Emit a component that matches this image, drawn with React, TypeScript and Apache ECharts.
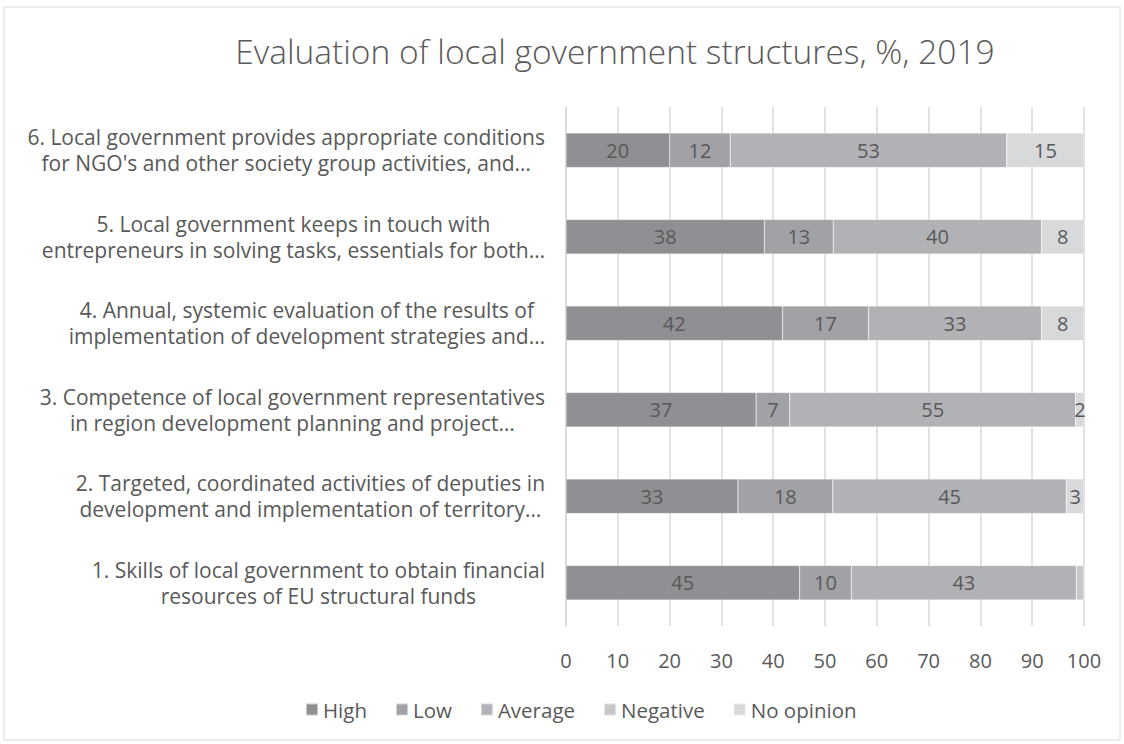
import React, { useEffect, useRef } from "react";
import * as echarts from "echarts";

const categories = [
  "1. Skills of local government to obtain financial\nresources of EU structural funds",
  "2. Targeted, coordinated activities of deputies in\ndevelopment and implementation of territory…",
  "3. Competence of local government representatives\nin region development planning and project…",
  "4. Annual, systemic evaluation of the results of\nimplementation of development strategies and…",
  "5. Local government keeps in touch with\nentrepreneurs in solving tasks, essentials for both…",
  "6. Local government provides appropriate conditions\nfor NGO's and other society group activities, and…",
];

const seriesNames = ["High", "Low", "Average", "Negative", "No opinion"];
const high = [45.1, 33.2, 36.7, 41.8, 38.3, 20.0];
const low = [10.0, 18.3, 6.5, 16.6, 13.3, 11.7];
const average = [43.4, 45.1, 55.2, 33.4, 40.2, 53.4];
const negative = [1.5, 0, 0, 0, 0, 0];
const noOpinion = [0, 3.4, 1.6, 8.2, 8.2, 14.9];
const hiddenLabels: Record<string, number[]> = { Negative: [0] };

const xTicks = { min: 0, max: 100, interval: 10 };
const colors = ["#8f9093", "#a1a2a5", "#b1b2b5", "#c6c7c9", "#d8d9db"];

export default function App() {
  const ref = useRef<HTMLDivElement>(null);
  useEffect(() => {
    if (!ref.current) return;
    const chart = echarts.init(ref.current, null, { renderer: "svg" });
    const values = [high, low, average, negative, noOpinion];
    const font = "'Open Sans', sans-serif";
    chart.setOption({
      animation: false,
      textStyle: { fontFamily: font },
      title: {
        text: "Evaluation of local government structures, %, 2019",
        left: 610,
        top: 29,
        textAlign: "center",
        textStyle: { fontFamily: font, fontSize: 33.5, fontWeight: 300, color: "#595959" },
      },
      graphic: [
        {
          type: "rect",
          shape: { x: 4, y: 7, width: 1116, height: 733 },
          style: { fill: "none", stroke: "#d9d9d9", lineWidth: 1 },
          silent: true,
        },
      ],
      legend: {
        data: seriesNames,
        bottom: 19,
        left: 300,
        itemWidth: 12,
        itemHeight: 12,
        itemGap: 28,
        icon: "rect",
        textStyle: { fontFamily: font, fontSize: 20.5, color: "#595959" },
      },
      grid: { left: 566, right: 40, top: 107, bottom: 118 },
      xAxis: {
        type: "value",
        min: xTicks.min,
        max: xTicks.max,
        interval: xTicks.interval,
        axisLine: { show: false },
        axisTick: { show: false },
        splitLine: { lineStyle: { color: "#d9d9d9", width: 1.5 } },
        axisLabel: { fontFamily: font, fontSize: 20, color: "#595959", margin: 24 },
      },
      yAxis: {
        type: "category",
        data: categories,
        axisLine: { show: true, lineStyle: { color: "#d9d9d9", width: 1.5 } },
        axisTick: { show: false },
        axisLabel: {
          margin: 21,
          align: "right",
          formatter: (v: string) =>
            v.split("\n").map((l) => `{c|${l}}`).join("\n"),
          rich: {
            c: { fontFamily: font, fontSize: 21, color: "#595959", align: "center", lineHeight: 26 },
          },
        },
      },
      series: seriesNames.map((name, i) => ({
        name,
        type: "bar",
        stack: "total",
        barWidth: "40%",
        itemStyle: { color: colors[i], borderColor: "rgba(255,255,255,0.5)", borderWidth: 0.5 },
        label: {
          show: true,
          position: "inside",
          fontFamily: font,
          fontSize: 20,
          color: "#595959",
          formatter: (p: any) => (p.value > 0 ? String(Math.round(p.value)) : ""),
        },
        data: values[i].map((v, j) =>
          (hiddenLabels[name] || []).includes(j) ? { value: v, label: { show: false } } : v
        ),
      })),
    });
    return () => chart.dispose();
  }, []);
  return (
    <div
      ref={ref}
      style={{ position: "absolute", left: 0, top: 0, width: 1124, height: 744, background: "#fff" }}
    />
  );
}
